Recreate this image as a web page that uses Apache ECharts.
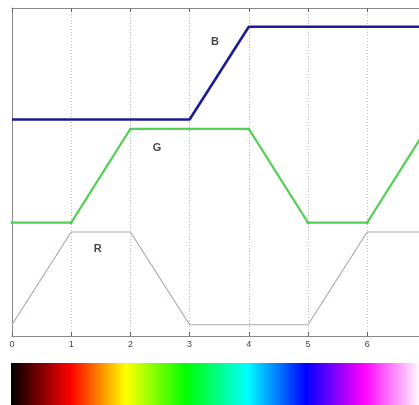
<!DOCTYPE html>
<html>
<head>
<meta charset="utf-8">
<script src="https://cdn.jsdelivr.net/npm/echarts@6/dist/echarts.min.js"></script>
<style>html,body{margin:0;padding:0;background:#fff}#c{width:419px;height:405px}</style>
</head>
<body>
<div id="c"></div>
<script>
var xValues = [0, 1, 2, 3, 4, 5, 6, 7];
var tickLabels = ['0', '1', '2', '3', '4', '5', '6', '7'];
var R = [0.12, 1.11, 1.11, 0.12, 0.12, 0.12, 1.11, 1.11];
var G = [1.21, 1.21, 2.21, 2.21, 2.21, 1.21, 1.21, 2.21];
var B = [2.31, 2.31, 2.31, 2.31, 3.30, 3.30, 3.30, 3.30];
var channelLabels = [
  {name: 'B', x: 3.43, y: 3.14},
  {name: 'G', x: 2.45, y: 2.01},
  {name: 'R', x: 1.45, y: 0.93}
];
var barStops = [
  [0.0, '#000000'], [0.145, '#ff0000'], [0.28, '#ffff00'], [0.426, '#00ff00'],
  [0.576, '#00ffff'], [0.72, '#0000ff'], [0.86, '#ff00ff'], [1.0, '#ffffff']
];

function pairs(vals) { return xValues.map(function (x, i) { return [x, vals[i]]; }); }

var chart = echarts.init(document.getElementById('c'), null, {renderer: 'canvas'});
chart.setOption({
  animation: false,
  backgroundColor: '#fff',
  grid: {left: 12, top: 8, bottom: 69, right: 0, containLabel: false},
  xAxis: [{
    type: 'value', min: 0, max: 6.875, interval: 1, position: 'bottom',
    axisLine: {show: true, lineStyle: {color: '#888', width: 1}},
    axisTick: {show: true, inside: true, length: 4, lineStyle: {color: '#666'}},
    axisLabel: {show: true, color: '#444', fontSize: 9, fontFamily: 'Liberation Sans', margin: 4,
      showMaxLabel: false,
      formatter: function (v) { var i = Math.round(v); return Math.abs(v - i) < 1e-6 ? tickLabels[i] : ''; }},
    splitLine: {show: true, showMaxLine: false, lineStyle: {color: '#bbb', type: [1, 2], width: 1}}
  }, {
    type: 'value', min: 0, max: 6.875, interval: 1, position: 'top',
    axisLine: {show: true, lineStyle: {color: '#888', width: 1}},
    axisTick: {show: true, inside: true, length: 4, lineStyle: {color: '#666'}},
    axisLabel: {show: false}, splitLine: {show: false}
  }],
  yAxis: {
    type: 'value', min: 0, max: 3.5,
    axisLine: {show: true, lineStyle: {color: '#888', width: 1}},
    axisTick: {show: false}, axisLabel: {show: false}, splitLine: {show: false}
  },
  series: [
    {type: 'line', data: pairs(R), symbol: 'none', clip: true, lineStyle: {color: '#b8a6a6', width: 1.2}},
    {type: 'line', data: pairs(G), symbol: 'circle', symbolSize: 3, clip: true, itemStyle: {color: '#4fd04f'},
      lineStyle: {color: '#55d055', width: 2.2}},
    {type: 'line', data: pairs(B), symbol: 'none', clip: true, lineStyle: {color: '#1c1c96', width: 2.6}},
    {type: 'scatter', symbolSize: 0, data: channelLabels.map(function (l) { return {name: l.name, value: [l.x, l.y]}; }),
      label: {show: true, position: 'inside', formatter: '{b}', color: '#111', fontSize: 11,
        fontFamily: 'Liberation Sans', fontWeight: 'bold'}}
  ],
  graphic: [{
    type: 'rect', shape: {x: 11, y: 363, width: 410, height: 42},
    style: {fill: new echarts.graphic.LinearGradient(0, 0, 1, 0,
      barStops.map(function (s) { return {offset: s[0], color: s[1]}; }))}
  }]
});
</script>
</body>
</html>
